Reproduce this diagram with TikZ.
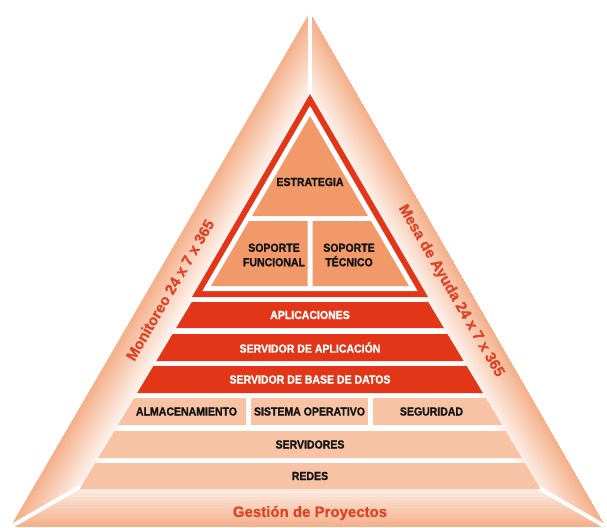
\documentclass[tikz,border=0pt]{standalone}
\usepackage{fontspec}
\usetikzlibrary{calc}
\newfontfamily\labfont[FakeStretch=0.9, BoldFeatures={FakeBold=1.2}]{Liberation Sans}
\newfontfamily\sidefont[BoldFeatures={FakeBold=0.6}]{Liberation Sans}
\definecolor{peach}{RGB}{244,176,138}
\definecolor{redband}{RGB}{227,53,24}
\definecolor{piece}{RGB}{241,153,105}
\definecolor{lightband}{RGB}{247,195,164}
\definecolor{outtext}{RGB}{222,66,36}
\newcommand\mkband[3]{%
  \pgfmathsetmacro\hwa{0.6*(#1-105)}%
  \pgfmathsetmacro\hwb{0.6*(#2-105)}%
  \fill[#3] (310-\hwa,#1) -- (310+\hwa,#1) -- (310+\hwb,#2) -- (310-\hwb,#2) -- cycle;}
\newcommand\gradstrips[3]{% P1 P2 normal
  \foreach \i in {0,...,30}{%
    \pgfmathsetmacro\pp{100*(1-\i/30)}%
    \pgfmathsetmacro\dd{\i*1.6}%
    \fill[peach!\pp!white] ($(#1)+\dd*(#3)$) -- ($(#2)+\dd*(#3)$) -- ($(#2)+250*(#3)$) -- ($(#1)+250*(#3)$) -- cycle;
  }}
\tikzset{
  lab/.style={font=\labfont\bfseries\fontsize{11.7}{14.5}\selectfont, text=black!92, align=center, inner sep=0pt},
  wlab/.style={lab, text=white},
  side/.style={font=\sidefont\bfseries\fontsize{15}{18}\selectfont, text=outtext, inner sep=0pt},
  spoke/.style={white, line width=4pt}
}
\begin{document}
\begin{tikzpicture}[x=1pt,y=-1pt]
\useasboundingbox (0,0) rectangle (607,527);
\fill[white] (0,0) rectangle (607,527);
\coordinate (A) at (310,12);
\coordinate (BL) at (10,527);
\coordinate (BR) at (606,527);
\coordinate (C) at (310,355);
% left region
\coordinate (L1) at (340,-40);
\coordinate (L2) at (-20,579);
\coordinate (nL) at (0.864,0.503);
\begin{scope}
  \clip (A) -- (C) -- (BL) -- cycle;
  \gradstrips{L1}{L2}{nL}
\end{scope}
% right region
\coordinate (R1) at (280,-40);
\coordinate (R2) at (636,579);
\coordinate (nR) at (-0.867,0.498);
\begin{scope}
  \clip (A) -- (C) -- (BR) -- cycle;
  \gradstrips{R1}{R2}{nR}
\end{scope}
% bottom region
\coordinate (D1) at (-50,527);
\coordinate (D2) at (660,527);
\coordinate (nD) at (0,-1);
\begin{scope}
  \clip (BL) -- (C) -- (BR) -- cycle;
  \gradstrips{D1}{D2}{nD}
\end{scope}
\draw[spoke] (A) -- (C);
\draw[spoke] (BL) -- (C);
\draw[spoke] (BR) -- (C);
% red outlined triangle
\fill[redband] (310,94) -- (428,297) -- (192,297) -- cycle;
\fill[white] (310,105.9) -- (417.6,291) -- (202.4,291) -- cycle;
\fill[piece] (310,116) -- (368,216) -- (252,216) -- cycle;
\fill[piece] (249,221) -- (307.5,221) -- (307.5,286) -- (211,286) -- cycle;
\fill[piece] (312.5,221) -- (371,221) -- (409,286) -- (312.5,286) -- cycle;
% bands
\mkband{302}{328}{redband}
\mkband{334}{361}{redband}
\mkband{366}{393}{redband}
\fill[lightband] (134.2,398) -- (246,398) -- (246,425) -- (118,425) -- cycle;
\fill[lightband] (251,398) -- (368,398) -- (368,425) -- (251,425) -- cycle;
\fill[lightband] (373,398) -- (485.8,398) -- (502,425) -- (373,425) -- cycle;
\mkband{431}{458}{lightband}
\mkband{463}{489}{lightband}
% labels
\node[lab] (estr) at (310,182) {ESTRATEGIA};
\node[lab] (sfun) at (274,255) {SOPORTE\\FUNCIONAL};
\node[lab] (stec) at (349,255) {SOPORTE\\TÉCNICO};
\node[wlab] (apl) at (310,315) {APLICACIONES};
\node[wlab] (sapl) at (310,347.5) {SERVIDOR DE APLICACIÓN};
\node[wlab] (sbd) at (310,379.5) {SERVIDOR DE BASE DE DATOS};
\node[lab] (alm) at (186.5,411.5) {ALMACENAMIENTO};
\node[lab] (sop) at (309.5,411.5) {SISTEMA OPERATIVO};
\node[lab] (seg) at (431.5,411.5) {SEGURIDAD};
\node[lab] (serv) at (310,444.5) {SERVIDORES};
\node[lab] (red) at (310,476) {REDES};
\node[side, rotate=59.8] (mon) at (170,290) {Monitoreo 24 x 7 x 365};
\node[side, rotate=-59.9] (mesa) at (451,291) {Mesa de Ayuda 24 x 7 x 365};
\node[side] (gest) at (310,513) {Gestión de Proyectos};
\end{tikzpicture}
\end{document}
